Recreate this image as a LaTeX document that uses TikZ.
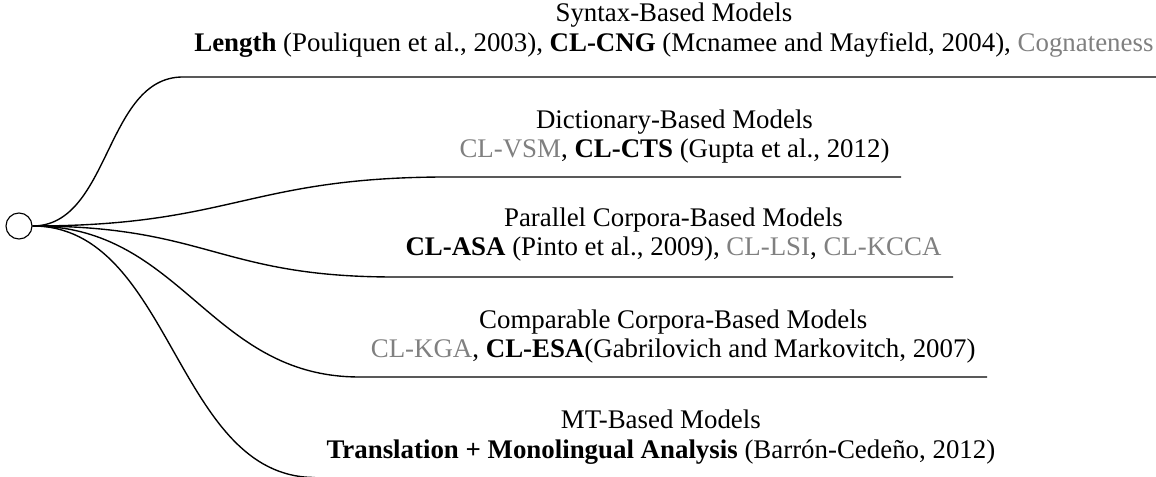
\documentclass[tikz,border=0pt]{standalone}
\usepackage{fontspec}
\setmainfont{Liberation Serif}
\definecolor{citegray}{gray}{0.5}
\newcommand{\gtx}[1]{\textcolor{citegray}{#1}}
\tikzset{
  branch/.style={line width=0.55pt},
  lbl/.style={align=center, inner xsep=4.4pt, inner ysep=0pt, font=\fontsize{10.75}{11.9}\selectfont},
  rootnode/.style={circle, draw, line width=0.45pt, minimum size=10.4pt, inner sep=0pt}
}
\begin{document}
\begin{tikzpicture}[x=0.4pt,y=-0.4pt]
\useasboundingbox (0,0) rectangle (1156,477);
\node[rootnode] (root) at (19,226) {};
% labels
\node[lbl, anchor=east] (t1) at (1165,30) {Syntax-Based Models\\ \textbf{Length} (Pouliquen et al., 2003), \textbf{CL-CNG} (Mcnamee and Mayfield, 2004), \gtx{Cognateness}};
\node[lbl, anchor=east] (t2) at (901,136.5) {Dictionary-Based Models\\ \gtx{CL-VSM}, \textbf{CL-CTS} (Gupta et al., 2012)};
\node[lbl, anchor=east] (t3) at (953,234.5) {Parallel Corpora-Based Models\\ \textbf{CL-ASA} (Pinto et al., 2009), \gtx{CL-LSI}, \gtx{CL-KCCA}};
\node[lbl, anchor=east] (t4) at (987,336.5) {Comparable Corpora-Based Models\\ \gtx{CL-KGA}, \textbf{CL-ESA}(Gabrilovich and Markovitch, 2007)};
\node[lbl, anchor=west] (t5) at (315,437) {MT-Based Models\\ \textbf{Translation + Monolingual Analysis} (Barrón-Cedeño, 2012)};
% underline heights
\coordinate (u1) at (0,77);
\coordinate (u2) at (0,177);
\coordinate (u3) at (0,277);
\coordinate (u4) at (0,377);
\coordinate (u5) at (0,477.5);
% branches
\draw[branch] (root.east) .. controls +(78,0) and +(-78,0) .. (t1.west |- u1) -- (t1.east |- u1);
\draw[branch] (root.east) .. controls +(200,0) and +(-200,0) .. (t2.west |- u2) -- (t2.east |- u2);
\draw[branch] (root.east) .. controls +(175,0) and +(-175,0) .. (t3.west |- u3) -- (t3.east |- u3);
\draw[branch] (root.east) .. controls +(150,0) and +(-150,0) .. (t4.west |- u4) -- (t4.east |- u4);
\draw[branch] (root.east) .. controls +(140,0) and +(-140,0) .. (t5.west |- u5);
\end{tikzpicture}
\end{document}
